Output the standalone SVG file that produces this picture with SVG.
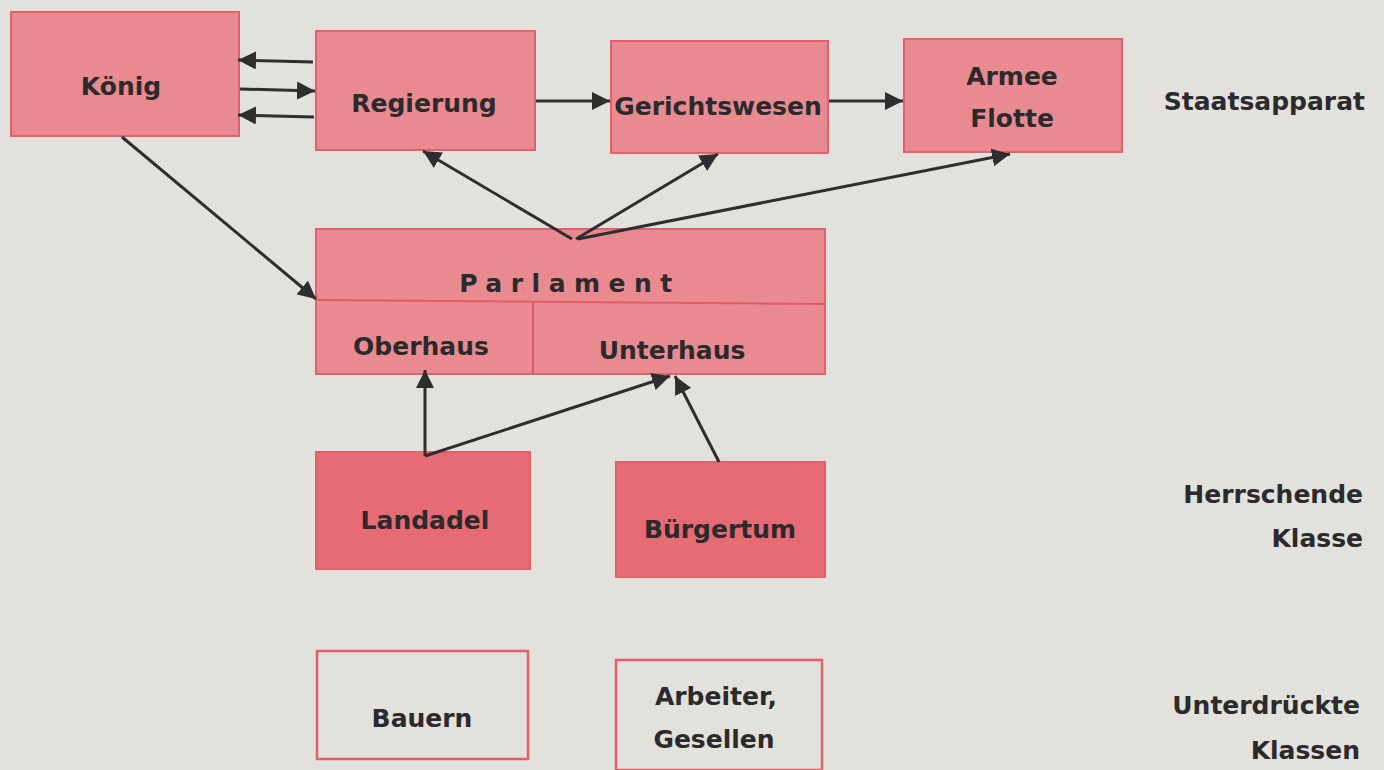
<svg xmlns="http://www.w3.org/2000/svg" width="1384" height="770" viewBox="0 0 1384 770">
<style>
.bg{fill:#e3e1dc}
.box{fill:#e98a91;stroke:#e2606c;stroke-width:2}
.boxd{fill:#e66b75;stroke:#e2606c;stroke-width:2}
.boxo{fill:none;stroke:#e2606c;stroke-width:2.5}
.div{stroke:#e05a66;stroke-width:2;fill:none}
text{font-family:"DejaVu Sans",Lato,sans-serif;font-weight:bold;fill:#2b2a2c;font-size:25px;text-anchor:middle}
.side{text-anchor:end;font-size:25px}
.c line{stroke:#2e2d30;stroke-width:3;fill:none}
</style>
<defs>
<marker id="ah" viewBox="0 0 10 10" refX="10" refY="5" markerWidth="6" markerHeight="6" orient="auto" markerUnits="strokeWidth">
<path d="M0,0 L10,5 L0,10 z" fill="#2e2d30"/>
</marker>
</defs>
<rect class="bg" x="0" y="0" width="1384" height="770"/>
<g id="koenig"><rect class="box" x="11" y="12" width="228" height="124"/><text x="121" y="95">König</text></g>
<g id="regierung"><rect class="box" x="316" y="31" width="219" height="119"/><text x="424" y="112">Regierung</text></g>
<g id="gerichtswesen"><rect class="box" x="611" y="41" width="217" height="112"/><text x="718" y="115">Gerichtswesen</text></g>
<g id="armee"><rect class="box" x="904" y="39" width="218" height="113"/><text x="1012" y="85">Armee</text><text x="1012" y="127">Flotte</text></g>
<g id="parlament"><rect class="box" x="316" y="229" width="509" height="145"/>
<line class="div" x1="316" y1="300" x2="825" y2="304"/><line class="div" x1="533" y1="302" x2="533" y2="374"/>
<text x="570" y="292" style="letter-spacing:8.5px">Parlament</text>
<text x="421" y="355">Oberhaus</text><text x="672" y="359">Unterhaus</text></g>
<g id="landadel"><rect class="boxd" x="316" y="452" width="214" height="117"/><text x="425" y="529">Landadel</text></g>
<g id="buergertum"><rect class="boxd" x="616" y="462" width="209" height="115"/><text x="720" y="538">Bürgertum</text></g>
<g id="bauern"><rect class="boxo" x="317" y="651" width="211" height="108"/><text x="422" y="727">Bauern</text></g>
<g id="arbeiter"><rect class="boxo" x="616" y="660" width="206" height="110"/><text x="716" y="705">Arbeiter,</text><text x="714" y="748">Gesellen</text></g>
<g id="labels">
<text class="side" x="1365" y="110">Staatsapparat</text>
<text class="side" x="1363" y="503">Herrschende</text>
<text class="side" x="1363" y="547">Klasse</text>
<text class="side" x="1360" y="714">Unterdrückte</text>
<text class="side" x="1360" y="759">Klassen</text>
</g>
<g id="connectors" class="c">
<line x1="313" y1="62" x2="238" y2="60" marker-end="url(#ah)"/>
<line x1="240" y1="89" x2="315" y2="91" marker-end="url(#ah)"/>
<line x1="314" y1="117" x2="238" y2="115" marker-end="url(#ah)"/>
<line x1="536" y1="101" x2="610" y2="101" marker-end="url(#ah)"/>
<line x1="829" y1="101" x2="903" y2="101" marker-end="url(#ah)"/>
<line x1="122" y1="137" x2="316" y2="299" marker-end="url(#ah)"/>
<line x1="572" y1="239" x2="423" y2="151" marker-end="url(#ah)"/>
<line x1="576" y1="239" x2="718" y2="154" marker-end="url(#ah)"/>
<line x1="578" y1="239" x2="1010" y2="154" marker-end="url(#ah)"/>
<line x1="425" y1="456" x2="425" y2="370" marker-end="url(#ah)"/>
<line x1="425" y1="456" x2="670" y2="376" marker-end="url(#ah)"/>
<line x1="719" y1="462" x2="675" y2="376" marker-end="url(#ah)"/>
</g>
</svg>
